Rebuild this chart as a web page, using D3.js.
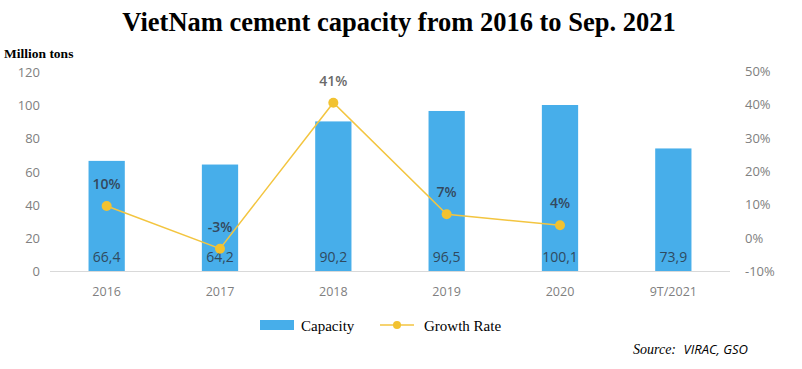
<!DOCTYPE html>
<html><head><meta charset="utf-8">
<script src="https://cdn.jsdelivr.net/npm/d3@7"></script>
<style>body{margin:0;background:#fff}svg{display:block}</style>
</head><body><svg id="c" width="802" height="369"></svg>
<script>
const categories = ["2016","2017","2018","2019","2020","9T/2021"];
const capacity = [66.4, 64.2, 90.2, 96.5, 100.1, 73.9];
const capacityLabels = ["66,4","64,2","90,2","96,5","100,1","73,9"];
const growth = [9.5, -3.3, 40.5, 7.0, 3.7, null];
const growthLabels = ["10%","-3%","41%","7%","4%",null];
const leftTicks = [0,20,40,60,80,100,120];
const rightTicks = [-10,0,10,20,30,40,50];

const svg = d3.select("#c");
const x = d3.scaleBand().domain(categories).range([50,730]).paddingInner(0.68).paddingOuter(0.34);
const y = d3.scaleLinear().domain([0,120]).range([271,72]);
const y2 = d3.scaleLinear().domain([-10,50]).range([271,71]);
const axisFont = "'Open Sans', 'Noto Sans', sans-serif";

svg.append("text").attr("x",399).attr("y",31).attr("text-anchor","middle")
  .attr("font-family","'Liberation Serif','Times New Roman',serif").attr("font-weight","bold")
  .attr("font-size",26.5).text("VietNam cement capacity from 2016 to Sep. 2021");
svg.append("text").attr("x",4).attr("y",58)
  .attr("font-family","'Liberation Serif','Times New Roman',serif").attr("font-weight","bold")
  .attr("font-size",13.5).text("Million tons");

// left axis
const la = svg.append("g").attr("transform","translate(40,0)")
  .call(d3.axisLeft(y).tickValues(leftTicks).tickSize(0).tickPadding(0));
la.select(".domain").remove();
la.selectAll("text").attr("fill","#808080").attr("font-family",axisFont).attr("font-size",13).attr("dy","0.35em");
// right axis
const ra = svg.append("g").attr("transform","translate(745,0)")
  .call(d3.axisRight(y2).tickValues(rightTicks).tickSize(0).tickPadding(0).tickFormat(d=>d+"%"));
ra.select(".domain").remove();
ra.selectAll("text").attr("fill","#808080").attr("font-family",axisFont).attr("font-size",13).attr("dy","0.35em");

// baseline
svg.append("line").attr("x1",50).attr("x2",730).attr("y1",y(0)+0.5).attr("y2",y(0)+0.5)
  .attr("stroke","#d9d9d9").attr("stroke-width",1);

// bars
svg.selectAll("rect.bar").data(capacity).join("rect").attr("class","bar")
  .attr("x",(d,i)=>x(categories[i])).attr("width",x.bandwidth())
  .attr("y",d=>y(d)).attr("height",d=>y(0)-y(d)).attr("fill","#47aeea");
svg.selectAll("text.cap").data(capacityLabels).join("text").attr("class","cap")
  .attr("x",(d,i)=>x(categories[i])+x.bandwidth()/2).attr("y",262)
  .attr("text-anchor","middle").attr("font-family",axisFont).attr("font-size",14)
  .attr("fill","#2f4a60").text(d=>d);

// x labels
const xa = svg.append("g").attr("transform",`translate(0,${y(0)})`)
  .call(d3.axisBottom(x).tickSize(0).tickPadding(16));
xa.select(".domain").remove();
xa.selectAll("text").attr("fill","#808080").attr("font-family",axisFont).attr("font-size",12.5);

// growth line
const pts = growth.map((g,i)=>({g,i})).filter(p=>p.g!==null);
const cx = i=>x(categories[i])+x.bandwidth()/2;
svg.append("path").datum(pts).attr("fill","none").attr("stroke","#f3c540").attr("stroke-width",1.5)
  .attr("d",d3.line().x(p=>cx(p.i)).y(p=>y2(p.g)));
svg.selectAll("circle.pt").data(pts).join("circle").attr("class","pt")
  .attr("cx",p=>cx(p.i)).attr("cy",p=>y2(p.g)).attr("r",5).attr("fill","#f2c230");
svg.selectAll("text.gl").data(pts).join("text").attr("class","gl")
  .attr("x",p=>cx(p.i)).attr("y",p=>y2(p.g)-17).attr("text-anchor","middle")
  .attr("font-family",axisFont).attr("font-size",14).attr("font-weight",600)
  .attr("fill",p=>p.i===2?"#6a6a6a":"#34495e").text(p=>growthLabels[p.i]);

// legend
const lf = "'Liberation Serif','Times New Roman',serif";
svg.append("rect").attr("x",260).attr("y",320).attr("width",34).attr("height",10).attr("fill","#47aeea");
svg.append("text").attr("x",301).attr("y",331).attr("font-family",lf).attr("font-size",15).text("Capacity");
svg.append("line").attr("x1",380).attr("x2",414).attr("y1",325).attr("y2",325).attr("stroke","#f3c540").attr("stroke-width",1.5);
svg.append("circle").attr("cx",397).attr("cy",325).attr("r",4).attr("fill","#f2c230");
svg.append("text").attr("x",424).attr("y",331).attr("font-family",lf).attr("font-size",15).text("Growth Rate");

// source
const src = svg.append("text").attr("x",633).attr("y",354).attr("font-style","italic").attr("font-size",14);
src.append("tspan").attr("font-family",lf).text("Source: ");
src.append("tspan").attr("font-family","'Open Sans','Noto Sans',sans-serif").attr("font-size",13).attr("dx",4).text("VIRAC, GSO");
</script></body></html>
